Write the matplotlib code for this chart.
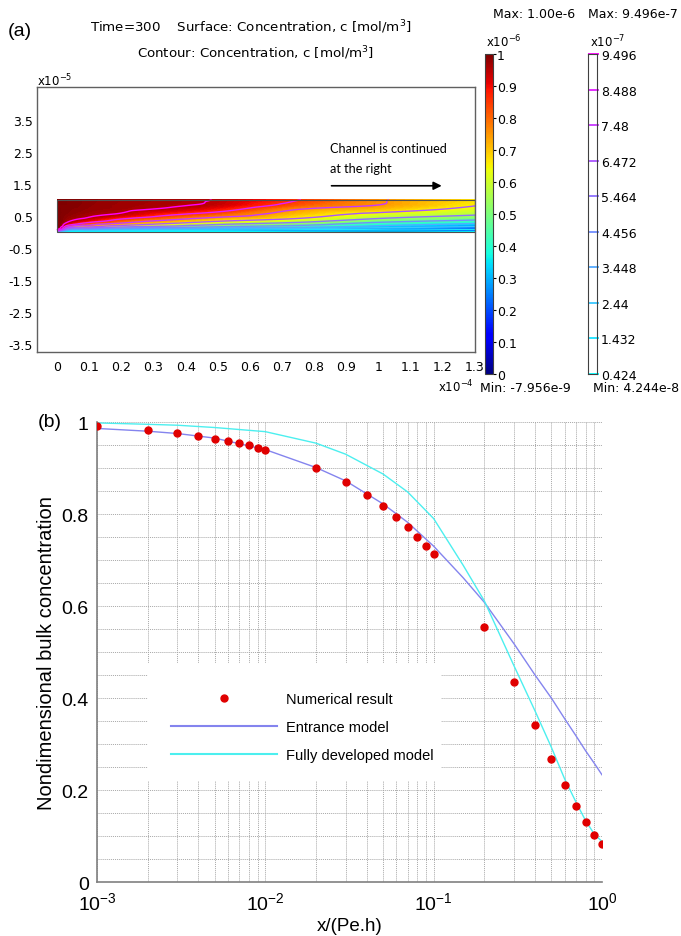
import numpy as np
import matplotlib
matplotlib.use('Agg')
import matplotlib.pyplot as plt
import matplotlib.tri as mtri
from matplotlib.patches import Rectangle
from matplotlib.ticker import FixedLocator, NullFormatter
from matplotlib.lines import Line2D

W, H = 681, 937

# ---- panel (a): concentration in the channel ----
# x in units of 1e-4 m, y in units of 1e-5 m, c in units of 1e-6 mol/m3
chan_x = [0, 0.01, 0.03, 0.1, 0.2, 0.35, 0.5, 0.75, 1.0, 1.3]
chan_y = [0, 0.03, 0.08, 0.15, 0.25, 0.4, 0.55, 0.7, 0.85, 1.0]
conc_cols = [
    [0.0, 0.75, 0.97, 1.0, 1.0, 1.0, 1.0, 1.0, 1.0, 1.0],
    [0.0, 0.45, 0.88, 0.97, 0.99, 1.0, 1.0, 1.0, 1.0, 1.0],
    [0.0, 0.16, 0.50, 0.76, 0.925, 0.975, 0.99, 0.995, 1.0, 1.0],
    [0.0, 0.13, 0.37, 0.647, 0.80, 0.93, 0.965, 0.98, 0.985, 0.987],
    [0.0, 0.11, 0.30, 0.546, 0.72, 0.849, 0.94, 0.965, 0.972, 0.975],
    [0.0, 0.095, 0.26, 0.49, 0.635, 0.77, 0.865, 0.935, 0.958, 0.962],
    [0.0, 0.085, 0.23, 0.43, 0.57, 0.705, 0.81, 0.885, 0.935, 0.945],
    [0.0, 0.065, 0.18, 0.37, 0.50, 0.635, 0.70, 0.748, 0.82, 0.852],
    [0.0, 0.05, 0.14, 0.29, 0.40, 0.535, 0.62, 0.70, 0.75, 0.758],
    [0.0, 0.07, 0.15, 0.23, 0.335, 0.47, 0.56, 0.615, 0.655, 0.67],
]
contour_levels = [0.424, 1.432, 2.44, 3.448, 4.456, 5.464, 6.472, 7.48, 8.488, 9.496]  # x1e-7
surf_ticks = [0, 0.1, 0.2, 0.3, 0.4, 0.5, 0.6, 0.7, 0.8, 0.9, 1]
surf_ticklabels = ['0', '0.1', '0.2', '0.3', '0.4', '0.5', '0.6', '0.7', '0.8', '0.9', '1']
a_xticks = [0, 0.1, 0.2, 0.3, 0.4, 0.5, 0.6, 0.7, 0.8, 0.9, 1.0, 1.1, 1.2, 1.3]
a_xticklabels = ['0', '0.1', '0.2', '0.3', '0.4', '0.5', '0.6', '0.7', '0.8', '0.9', '1', '1.1', '1.2', '1.3']
a_yticks = [-3.5, -2.5, -1.5, -0.5, 0.5, 1.5, 2.5, 3.5]

# ---- panel (b): bulk concentration ----
x_num = [0.001, 0.002, 0.003, 0.004, 0.005, 0.006, 0.007, 0.008, 0.009, 0.01,
         0.02, 0.03, 0.04, 0.05, 0.06, 0.07, 0.08, 0.09, 0.1,
         0.2, 0.3, 0.4, 0.5, 0.6, 0.7, 0.8, 0.9, 1.0]
y_num = [0.991, 0.983, 0.976, 0.969, 0.964, 0.958, 0.954, 0.949, 0.944, 0.939,
         0.899, 0.869, 0.841, 0.817, 0.793, 0.771, 0.750, 0.730, 0.712,
         0.554, 0.434, 0.341, 0.267, 0.211, 0.166, 0.131, 0.102, 0.083]
x_model = [0.001, 0.002, 0.003, 0.005, 0.01, 0.02, 0.03, 0.05, 0.07, 0.1,
           0.15, 0.2, 0.3, 0.4, 0.5, 0.6, 0.7, 0.8, 0.9, 1.0]
y_entrance = [0.986, 0.980, 0.975, 0.965, 0.940, 0.901, 0.872, 0.822, 0.782, 0.730,
              0.661, 0.608, 0.518, 0.450, 0.400, 0.355, 0.318, 0.285, 0.258, 0.233]
y_developed = [0.998, 0.995, 0.993, 0.988, 0.979, 0.954, 0.930, 0.887, 0.848, 0.790,
               0.688, 0.611, 0.470, 0.372, 0.293, 0.224, 0.174, 0.133, 0.104, 0.088]
b_yticks = [0, 0.2, 0.4, 0.6, 0.8, 1.0]
b_yticklabels = ['0', '0.2', '0.4', '0.6', '0.8', '1']


def fx(px):
    return px / W


def fy(py):
    return 1 - py / H


plt.rcParams['mathtext.fontset'] = 'custom'
plt.rcParams['mathtext.rm'] = 'DejaVu Sans'

fig = plt.figure(figsize=(W / 100, H / 100), dpi=100)

# ================= panel (a) =================
ax1 = fig.add_axes([fx(37), fy(353), (475 - 37) / W, (353 - 88) / H])
X, Y = np.meshgrid(chan_x, chan_y)
Z = np.array(conc_cols).T
tri = mtri.Triangulation(X.ravel(), Y.ravel())
interp = mtri.CubicTriInterpolator(tri, Z.ravel(), kind='geom')
refiner = mtri.UniformTriRefiner(tri)
tri_f, z_f = refiner.refine_field(Z.ravel(), triinterpolator=interp, subdiv=4)
z_f = np.clip(z_f, 0, 1)
ax1.tricontourf(tri_f, z_f, levels=np.linspace(0, 1, 121), cmap='jet', extend='both')
ax1.tricontour(tri_f, z_f, levels=[v / 10 for v in contour_levels], cmap='cool', linewidths=1.0)
ax1.add_patch(Rectangle((0, 0), 1.3, 1.0, fill=False, edgecolor='#505050', lw=0.8, zorder=5))

ax1.set_xlim(-0.0623, 1.3)
ax1.set_ylim(-3.76, 4.53)
ax1.set_xticks(a_xticks)
ax1.set_xticklabels(a_xticklabels)
ax1.set_yticks(a_yticks)
ax1.set_yticklabels([f'{v:g}' for v in a_yticks])
ax1.tick_params(length=0, labelsize=9)
ax1.tick_params(axis='x', pad=6)
ax1.tick_params(axis='y', pad=3)
for s in ax1.spines.values():
    s.set_color('#606060')
    s.set_linewidth(1.0)

ax1.annotate('', xy=(1.205, 1.44), xytext=(0.845, 1.44),
             arrowprops=dict(arrowstyle='-|>', color='black', lw=1.2, mutation_scale=12))
ax1.text(0.848, 2.62, 'Channel is continued', family='Lato', fontsize=9.1, va='center', ha='left')
ax1.text(0.848, 2.0, 'at the right', family='Lato', fontsize=9.1, va='center', ha='left')

fig.text(fx(8), fy(32), '(a)', fontsize=14, family='Liberation Sans', va='center')
fig.text(fx(251), fy(27), 'Time=300    Surface: Concentration, c [mol/m$^3$]',
         fontsize=9.6, ha='center', va='center')
fig.text(fx(256), fy(53), 'Contour: Concentration, c [mol/m$^3$]',
         fontsize=9.6, ha='center', va='center')
fig.text(fx(37), fy(86), r'x10$^{-5}$', fontsize=8.5, va='baseline')
fig.text(fx(438), fy(392), r'x10$^{-4}$', fontsize=8.5, va='baseline')

# surface colorbar
cax1 = fig.add_axes([fx(485), fy(375), 8 / W, 320 / H])
sm = plt.cm.ScalarMappable(norm=plt.Normalize(0, 1), cmap='jet')
cb = fig.colorbar(sm, cax=cax1, ticks=surf_ticks)
cb.ax.set_yticklabels(surf_ticklabels)
cb.ax.tick_params(labelsize=9, length=2, pad=1)
cb.outline.set_edgecolor('#404040')
fig.text(fx(486), fy(47), r'x10$^{-6}$', fontsize=8.5, va='baseline')
fig.text(fx(493), fy(14), 'Max: 1.00e-6', fontsize=9, va='center')
fig.text(fx(480), fy(389), 'Min: -7.956e-9', fontsize=9, va='center')

# contour legend bar
cax2 = fig.add_axes([fx(588), fy(375), 9 / W, 320 / H])
cax2.set_xlim(0, 1)
cax2.set_ylim(contour_levels[0], contour_levels[-1])
cmap_c = plt.get_cmap('cool')
for i, lv in enumerate(contour_levels):
    cax2.plot([0, 1.25], [lv, lv], color=cmap_c(i / (len(contour_levels) - 1)),
              lw=1.3, clip_on=False, solid_capstyle='butt')
cax2.set_xticks([])
cax2.yaxis.tick_right()
cax2.set_yticks(contour_levels)
cax2.set_yticklabels([f'{v:g}' for v in contour_levels])
cax2.tick_params(axis='y', length=0, labelsize=9, pad=3)
for s in cax2.spines.values():
    s.set_color('#404040')
    s.set_linewidth(0.8)
fig.text(fx(590), fy(47), r'x10$^{-7}$', fontsize=8.5, va='baseline')
fig.text(fx(588), fy(14), 'Max: 9.496e-7', fontsize=9, va='center')
fig.text(fx(593), fy(389), 'Min: 4.244e-8', fontsize=9, va='center')

# ================= panel (b) =================
ax2 = fig.add_axes([fx(97), fy(883), (602 - 97) / W, (883 - 423) / H])
ax2.set_xscale('log')
ax2.set_xlim(1e-3, 1)
ax2.set_ylim(0, 1)
ax2.set_axisbelow(True)
ax2.set_yticks(b_yticks)
ax2.set_yticklabels(b_yticklabels)
ax2.yaxis.set_minor_locator(FixedLocator([0.05 * k for k in range(1, 20)]))
ax2.xaxis.set_minor_formatter(NullFormatter())
ax2.grid(which='both', color='#a8a8a8', linestyle=(0, (1, 1)), linewidth=0.7)
ax2.set_xticks([1e-3, 1e-2, 1e-1, 1])
ax2.set_xticklabels([r'10$^{\mathregular{-3}}$', r'10$^{\mathregular{-2}}$',
                     r'10$^{\mathregular{-1}}$', r'10$^{\mathregular{0}}$'])
for lab in ax2.get_xticklabels() + ax2.get_yticklabels():
    lab.set_family('Liberation Sans')
ax2.tick_params(which='both', length=0, labelsize=14)
ax2.tick_params(axis='x', pad=7)
ax2.tick_params(axis='y', pad=6)
for side in ['top', 'right']:
    ax2.spines[side].set_visible(False)
for side in ['left', 'bottom']:
    ax2.spines[side].set_color('#808080')
    ax2.spines[side].set_linewidth(1.2)

ax2.add_patch(Rectangle((0.101, 0.22), 0.58, 0.256, transform=ax2.transAxes,
                        facecolor='white', edgecolor='none', zorder=1))
ax2.plot(x_model, y_entrance, color='#8484ee', lw=1.0, zorder=3)
ax2.plot(x_model, y_developed, color='#4cefef', lw=1.0, zorder=3)
ax2.plot(x_num, y_num, 'o', color='#e00000', ms=5, zorder=4)

handles = [Line2D([], [], ls='none', marker='o', color='#e00000', ms=5),
           Line2D([], [], color='#8484ee', lw=1.5),
           Line2D([], [], color='#4cefef', lw=1.5)]
ax2.legend(handles, ['Numerical result', 'Entrance model', 'Fully developed model'],
           loc='upper left', bbox_to_anchor=(0.1465, 0.413), frameon=False,
           borderpad=0, borderaxespad=0, handlelength=7.3, handletextpad=0.6,
           labelspacing=0.97, prop={'family': 'Liberation Sans', 'size': 10.5})

ax2.set_ylabel('Nondimensional bulk concentration', family='Liberation Sans', fontsize=14.5, labelpad=4)
ax2.set_xlabel('x/(Pe.h)', family='Liberation Sans', fontsize=13.5, labelpad=2)
fig.text(fx(38), fy(423), '(b)', fontsize=14, family='Liberation Sans', va='center')

fig.savefig('out.png', dpi=100)
